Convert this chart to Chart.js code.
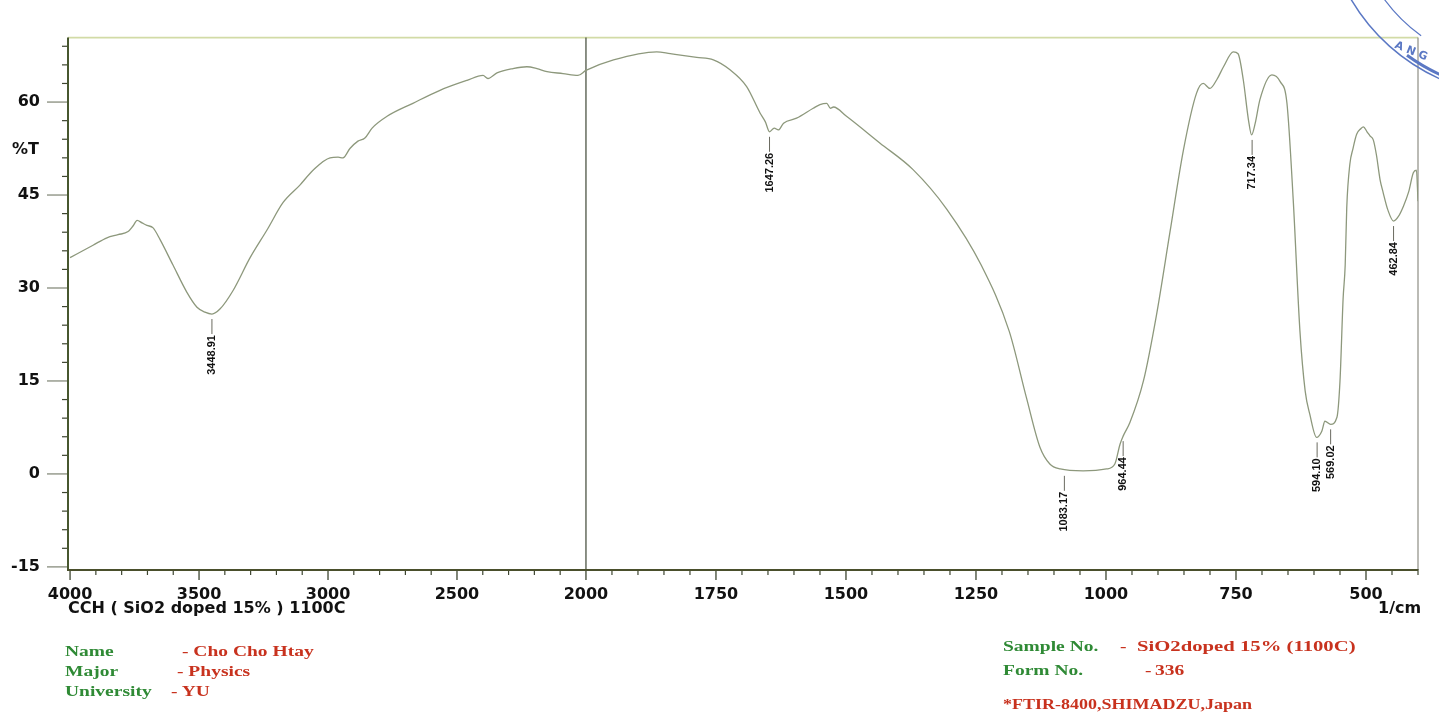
<!DOCTYPE html>
<html><head><meta charset="utf-8">
<script src="https://cdn.jsdelivr.net/npm/chart.js@4.4.1/dist/chart.umd.min.js"></script>
<style>
html,body{margin:0;padding:0;background:#fff;}
#wrap{position:relative;width:1439px;height:717px;overflow:hidden;background:#fff;}
canvas{position:absolute;left:0;top:0;}
.t{position:absolute;white-space:nowrap;line-height:1;}
.ax{font-family:'DejaVu Sans',sans-serif;font-weight:bold;font-size:16px;color:#111;}
.ft{font-family:'Liberation Serif',serif;font-weight:bold;font-size:15px;transform:scaleX(1.3);transform-origin:0 0;}
.g{color:#2f8a35}.r{color:#c8321e}
</style></head><body>
<div id="wrap">
<canvas id="c" width="1439" height="717"></canvas>
<div class="t ax" style="left:12px;top:141px">%T</div>
<div class="t ax" style="left:68px;top:600px">CCH ( SiO2 doped 15% ) 1100C</div>
<div class="t ax" style="left:1378px;top:600px">1/cm</div>

<div class="t ft g" style="left:65px;top:644px">Name</div>
<div class="t ft r" style="left:182px;top:644px">- Cho Cho Htay</div>
<div class="t ft g" style="left:65px;top:664px">Major</div>
<div class="t ft r" style="left:177px;top:664px">- Physics</div>
<div class="t ft g" style="left:65px;top:684px">University</div>
<div class="t ft r" style="left:171px;top:684px">- YU</div>

<div class="t ft g" style="left:1003px;top:639px">Sample No.</div>
<div class="t ft r" style="left:1120px;top:639px">-</div>
<div class="t ft r" style="left:1137px;top:639px;transform:scaleX(1.38)">SiO2doped 15% (1100C)</div>
<div class="t ft g" style="left:1003px;top:663px">Form No.</div>
<div class="t ft r" style="left:1145px;top:663px">-</div>
<div class="t ft r" style="left:1155px;top:663px">336</div>
<div class="t ft r" style="left:1003px;top:697px;transform:scaleX(1.2)">*FTIR-8400,SHIMADZU,Japan</div>
</div>
<script>
// ---- data ----
const wavenumber = [4000,3911,3857,3814,3775,3756,3740,3721,3702,3678,3651,3601,3547,3508,3477,3450,3419,3368,3302,3236,3174,3109,3058,2992,2961,2942,2915,2884,2857,2829,2771,2671,2566,2461,2399,2380,2345,2283,2229,2190,2151,2089,2031,2000,1947,1864,1838,1787,1755,1723,1691,1665,1655,1647,1638,1630,1620,1595,1563,1550,1537,1530,1524,1499,1435,1371,1306,1240,1186,1153,1127,1108,1088,1044,999,983,973,967,954,928,903,877,851,826,813,800,787,774,755,746,736,726,720,713,704,681,665,652,640,627,617,608,595,585,579,568,556,550,544,540,537,531,525,518,510,505,498,492,486,480,473,467,458,447,438,428,418,409,403,400];
const transmittance = [34.9,36.9,38.1,38.6,39.1,40.0,40.9,40.5,40.1,39.7,37.8,33.7,29.3,26.9,26.1,25.8,26.6,29.6,34.9,39.4,43.8,46.6,49.0,51.0,51.1,51.0,52.5,53.7,54.2,55.8,57.7,59.8,61.9,63.5,64.3,63.8,64.7,65.4,65.7,65.4,64.9,64.6,64.3,65.1,66.8,68.1,67.8,67.2,66.8,65.2,62.5,58.2,56.8,55.2,55.8,55.5,56.6,57.4,59.0,59.6,59.8,59.0,59.2,57.7,53.4,49.1,42.7,33.7,23.0,12.3,4.3,1.6,0.8,0.5,0.8,1.6,4.8,6.1,8.3,15.0,25.6,39.0,52.3,61.4,63.0,62.2,63.6,65.7,68.1,67.8,63.6,57.1,54.7,56.6,60.4,64.4,63.3,59.8,44.3,23.0,13.4,9.6,5.9,6.9,8.5,8.0,9.1,15.0,28.3,33.7,43.0,50.0,52.5,54.8,55.7,56.0,55.2,54.5,53.9,51.5,47.5,45.4,42.6,40.8,41.5,43.2,45.5,48.6,49.0,44.0];
const xMajorTicks = [4000,3500,3000,2500,2000,1750,1500,1250,1000,750,500];
const yMajorTicks = [-15,0,15,30,45,60];
const peakText  = ['3448.91','1647.26','1083.17','964.44','717.34','594.10','569.02','462.84'];
const peakAt    = [3450,1647,1080,967,719,594,568,447];
const peakValue = [25.8,55.2,0.5,6.1,54.7,5.9,8.0,40.8];

// ---- axis constants ----
const BREAK = 2000, X_HIGH = 4008, X_LOW = 400, RIGHT_STRETCH = 2.016;
const xTicks = [];
for (let v = 4000; v > BREAK; v -= 100) xTicks.push(v);
for (let v = BREAK; v >= X_LOW; v -= 50) xTicks.push(v);
const yTicks = [];
for (let v = -15; v <= 69; v += 3) yTicks.push(v);

// split wavenumber scale (FTIR style: 4000-2000 compressed, 2000-400 expanded)
class SplitWavenumberScale extends Chart.LinearScale {
  _pos(v) { return v >= BREAK ? (X_HIGH - v) : (X_HIGH - BREAK) + (BREAK - v) * RIGHT_STRETCH; }
  getPixelForValue(v) {
    const a = this._pos(this.max), b = this._pos(this.min);
    return this.left + (this._pos(v) - a) / (b - a) * this.width;
  }
  getValueForPixel(px) {
    const a = this._pos(this.max), b = this._pos(this.min);
    const p = a + (px - this.left) / this.width * (b - a);
    const pb = X_HIGH - BREAK;
    return p <= pb ? X_HIGH - p : BREAK - (p - pb) / RIGHT_STRETCH;
  }
}
SplitWavenumberScale.id = 'splitwn';
SplitWavenumberScale.defaults = {};
Chart.register(SplitWavenumberScale);

function seg(ctx, x1, y1, x2, y2, color, w) {
  ctx.beginPath(); ctx.strokeStyle = color; ctx.lineWidth = w;
  ctx.moveTo(x1, y1); ctx.lineTo(x2, y2); ctx.stroke();
}

const framePlugin = {
  id: 'ftirFrame',
  beforeDatasetsDraw(chart) {
    const { ctx, chartArea: a, scales: { x, y } } = chart;
    ctx.save();
    seg(ctx, a.left, a.top, a.right, a.top, '#d2dba6', 1.6);
    seg(ctx, a.right, a.top, a.right, a.bottom, '#8e8e84', 1.2);
    const xb = x.getPixelForValue(BREAK);
    seg(ctx, xb, a.top, xb, a.bottom, '#4d5544', 1.3);
    y.ticks.forEach(t => {
      const py = y.getPixelForValue(t.value);
      if (yMajorTicks.includes(t.value)) seg(ctx, a.left - 21, py, a.left, py, '#7d8372', 1.2);
      else seg(ctx, a.left - 6, py, a.left, py, '#3d4530', 1.2);
    });
    x.ticks.forEach(t => {
      const px = x.getPixelForValue(t.value);
      if (xMajorTicks.includes(t.value)) seg(ctx, px, a.bottom, px, a.bottom + 10, '#3d4530', 1.3);
      else seg(ctx, px, a.bottom - 1, px, a.bottom + 5, '#3d4530', 1.2);
    });
    seg(ctx, a.left, a.top, a.left, a.bottom + 1, '#47572f', 2);
    seg(ctx, a.left - 1, a.bottom, a.right, a.bottom, '#4a4f2c', 2);
    ctx.restore();
  },
  afterDatasetsDraw(chart) {
    const { ctx, scales: { x, y } } = chart;
    ctx.save();
    peakText.forEach((txt, i) => {
      const px = x.getPixelForValue(peakAt[i]);
      const py = y.getPixelForValue(peakValue[i]);
      seg(ctx, px, py + 5, px, py + 20, '#6a6a60', 1);
      ctx.save();
      ctx.translate(px, py + 21);
      ctx.rotate(-Math.PI / 2);
      ctx.font = 'bold 11px "Liberation Sans", Arial, sans-serif';
      ctx.fillStyle = '#111';
      ctx.textAlign = 'right';
      ctx.textBaseline = 'middle';
      ctx.fillText(txt, 0, 0);
      ctx.restore();
    });
    ctx.restore();
  },
  afterDraw(chart) {
    const ctx = chart.ctx;
    ctx.save();
    ctx.strokeStyle = '#5b78c4';
    ctx.lineWidth = 1.5;
    ctx.beginPath(); ctx.arc(1520, -100, 196, 1.98, 2.62); ctx.stroke();
    ctx.lineWidth = 3;
    ctx.beginPath(); ctx.arc(1520, -100, 192, 1.93, 2.2); ctx.stroke();
    ctx.lineWidth = 1.2;
    ctx.beginPath(); ctx.arc(1520, -100, 168, 2.2, 2.75); ctx.stroke();
    ctx.translate(1410, 54);
    ctx.rotate(0.38);
    ctx.fillStyle = '#5b78c4';
    ctx.font = 'bold 11px "DejaVu Sans", sans-serif';
    ctx.textAlign = 'center';
    ctx.fillText('A N G', 0, 0);
    ctx.restore();
  }
};

new Chart(document.getElementById('c'), {
  type: 'line',
  data: {
    datasets: [{
      data: wavenumber.map((w, i) => ({ x: w, y: transmittance[i] })),
      borderColor: '#8d987c',
      borderWidth: 1.3,
      pointRadius: 0,
      cubicInterpolationMode: 'monotone',
      fill: false
    }]
  },
  options: {
    responsive: false,
    animation: false,
    devicePixelRatio: 1,
    events: [],
    layout: { padding: { left: 0, top: 34, right: 21, bottom: 0 } },
    plugins: { legend: { display: false }, tooltip: { enabled: false } },
    scales: {
      x: {
        type: 'splitwn', min: X_LOW, max: X_HIGH,
        afterBuildTicks: s => { s.ticks = xTicks.map(v => ({ value: v })); },
        afterFit: s => { s.height = 147; },
        grid: { display: false, drawTicks: false },
        border: { display: false },
        ticks: {
          autoSkip: false, maxRotation: 0, minRotation: 0, padding: 15,
          color: '#111',
          font: { family: 'DejaVu Sans', weight: 'bold', size: 16 },
          callback: v => xMajorTicks.includes(v) ? String(v) : ''
        }
      },
      y: {
        type: 'linear', min: -15.5, max: 70.4,
        afterBuildTicks: s => { s.ticks = yTicks.map(v => ({ value: v })); },
        afterFit: s => { s.width = 68; },
        grid: { display: false, drawTicks: false },
        border: { display: false },
        ticks: {
          autoSkip: false, padding: 28,
          color: '#111',
          font: { family: 'DejaVu Sans', weight: 'bold', size: 16 },
          callback: v => yMajorTicks.includes(v) ? String(v) : ''
        }
      }
    }
  },
  plugins: [framePlugin]
});
</script>
</body></html>
